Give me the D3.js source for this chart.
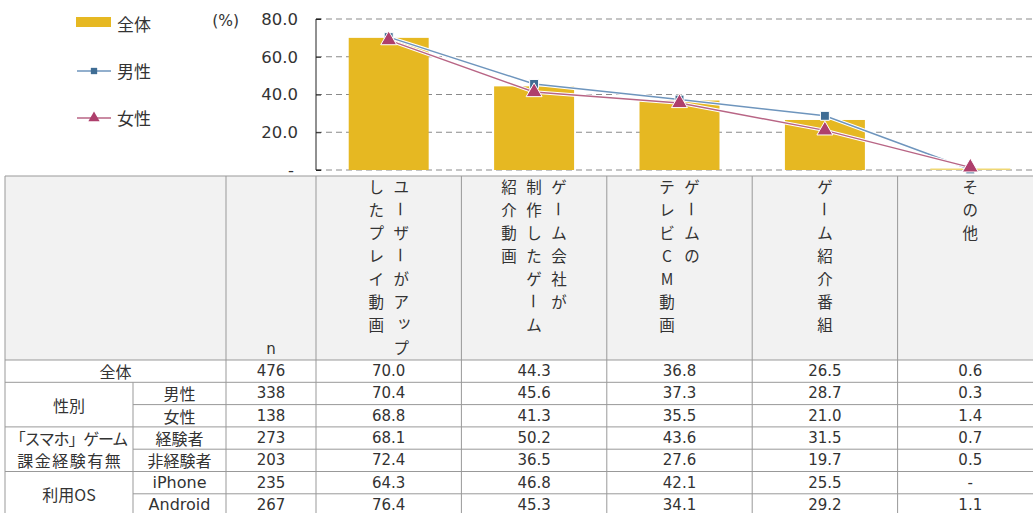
<!DOCTYPE html>
<html><head><meta charset="utf-8">
<script src="https://cdn.jsdelivr.net/npm/d3@7"></script>
<style>body{margin:0;background:#fff;} svg{display:block;}</style>
</head><body><svg id="c" width="1033" height="513"></svg>
<script>
// ---- data ----
const categories = ["ユーザーがアップしたプレイ動画","ゲーム会社が制作したゲーム紹介動画","ゲームのテレビCM動画","ゲーム紹介番組","その他"];
const headerColumns = [["ユーザーがアップ","したプレイ動画"],["ゲーム会社が","制作したゲーム","紹介動画"],["ゲームの","テレビCM動画"],["ゲーム紹介番組"],["その他"]];
const totalValues = [70.0,44.3,36.8,26.5,0.6];
const maleValues = [70.4,45.6,37.3,28.7,0.3];
const femaleValues = [68.8,41.3,35.5,21.0,1.4];
const yTicks = [0,20,40,60,80];
const yTickLabels = ["-","20.0","40.0","60.0","80.0"];
const seriesNames = ["全体","男性","女性"];
const groupLabels = [["全体"],["性別"],["「スマホ」ゲーム","課金経験有無"],["利用OS"]];
const groupSizes = [1,2,2,2];
const subLabels = ["","男性","女性","経験者","非経験者","iPhone","Android"];
const rowN = [476,338,138,273,203,235,267];
const tableValues = [
  [70.0,44.3,36.8,26.5,0.6],
  [70.4,45.6,37.3,28.7,0.3],
  [68.8,41.3,35.5,21.0,1.4],
  [68.1,50.2,43.6,31.5,0.7],
  [72.4,36.5,27.6,19.7,0.5],
  [64.3,46.8,42.1,25.5,null],
  [76.4,45.3,34.1,29.2,1.1]
];

// ---- layout ----
const svg = d3.select("#c");
const axisX = 316, colRight = 1043;
const numFont = "'DejaVu Sans', 'Noto Sans CJK JP', sans-serif";
const jpFont = "'Noto Sans CJK JP', 'DejaVu Sans', sans-serif";
const textColor = "#333";
const barColor = "#E6B822";
const maleColor = "#6E95BD", maleMarker = "#3F6D94";
const femaleColor = "#B86585", femaleMarker = "#AE3F6C";

const x = d3.scaleBand().domain(categories).range([axisX, colRight]).paddingInner(0.45).paddingOuter(0.225);
const y = d3.scaleLinear().domain([0,80]).range([170,19]);
const step = x.step();
const cx = c => x(c) + x.bandwidth()/2;

// gridlines
svg.append("g").selectAll("line").data(yTicks).join("line")
  .attr("x1", axisX).attr("x2", 1033).attr("y1", d=>y(d)).attr("y2", d=>y(d))
  .attr("stroke", "#8a8a8a").attr("stroke-width", 1).attr("stroke-dasharray", "6,4");

// bars
svg.append("g").selectAll("rect").data(totalValues).join("rect")
  .attr("x", (d,i)=>x(categories[i])).attr("width", x.bandwidth())
  .attr("y", d=>Math.min(y(d), y(0)-1.5)).attr("height", d=>Math.max(1.5, y(0)-y(d)))
  .attr("fill", (d,i)=> i===4 ? "#EFD774" : barColor);

// y axis
const yAxis = d3.axisRight(y).tickValues(yTicks).tickSize(5).tickFormat("");
const ga = svg.append("g").attr("transform", `translate(${axisX},0)`).call(yAxis);
ga.selectAll("path,line").attr("stroke","#222");
ga.select(".domain").attr("d", `M5,${y(80)}H0V${y(0)}H5`);

svg.append("g").selectAll("text").data(yTicks).join("text")
  .attr("x", (d,i)=> i===0 ? 294 : 298).attr("y", d=>y(d)).attr("dy","0.35em")
  .attr("text-anchor","end").attr("font-family", numFont).attr("font-size", 16.5).attr("fill", textColor)
  .text((d,i)=>yTickLabels[i]);
svg.append("text").attr("x",239).attr("y",y(80)+2).attr("dy","0.35em").attr("text-anchor","end")
  .attr("font-family", numFont).attr("font-size",15.5).attr("fill",textColor).text("(%)");

// lines
const line = d3.line().x((d,i)=>cx(categories[i])).y(d=>y(d));
function drawSeries(vals, color, marker, shape){
  const g = svg.append("g");
  g.append("path").attr("d", line(vals)).attr("fill","none").attr("stroke","#fff").attr("stroke-width",3.5);
  g.append("path").attr("d", line(vals)).attr("fill","none").attr("stroke",color).attr("stroke-width",1.5);
  const sym = d3.symbol().type(shape).size(shape===d3.symbolSquare ? 80 : 110);
  g.selectAll("path.m").data(vals).join("path").attr("class","m")
    .attr("transform",(d,i)=>`translate(${cx(categories[i])},${y(d)})`)
    .attr("d", sym()).attr("fill", marker).attr("stroke","#fff").attr("stroke-width",1);
}
drawSeries(maleValues, maleColor, maleMarker, d3.symbolSquare);
drawSeries(femaleValues, femaleColor, femaleMarker, d3.symbolTriangle);

// legend
const lg = svg.append("g");
lg.append("rect").attr("x",76).attr("y",17).attr("width",35).attr("height",10).attr("fill",barColor);
[[71, maleColor, maleMarker, d3.symbolSquare],[118, femaleColor, femaleMarker, d3.symbolTriangle]].forEach(([ly,c,m,s])=>{
  lg.append("line").attr("x1",77).attr("x2",111).attr("y1",ly).attr("y2",ly).attr("stroke",c).attr("stroke-width",1.5);
  lg.append("path").attr("transform",`translate(94,${ly})`).attr("d",d3.symbol().type(s).size(s===d3.symbolSquare?40:55)()).attr("fill",m);
});
lg.selectAll("text").data(seriesNames).join("text")
  .attr("x",117).attr("y",(d,i)=>[25,72,119][i]).attr("dy","0.35em")
  .attr("font-family", jpFont).attr("font-size",17).attr("fill",textColor).text(d=>d);

// ---- table ----
const tTop = 176, hBottom = 360, rowH = 22.3, tLeft = 5, groupSep = 133, nSep = 226;
const nRows = rowN.length;
const tg = svg.append("g");
tg.append("rect").attr("x",tLeft).attr("y",tTop).attr("width",1040-tLeft).attr("height",hBottom-tTop).attr("fill","#F2F2F2");
const border = "#999";
const rowY = i => hBottom + i*rowH;
const groupStarts = [0]; groupSizes.forEach((s,i)=>groupStarts.push(groupStarts[i]+s));
tg.append("line").attr("x1",tLeft).attr("x2",1040).attr("y1",tTop).attr("y2",tTop).attr("stroke",border);
for(let i=0;i<=nRows;i++){
  const full = groupStarts.includes(i);
  tg.append("line").attr("x1", full? tLeft : groupSep).attr("x2",1040).attr("y1",rowY(i)).attr("y2",rowY(i)).attr("stroke",border);
}
const colEdges = [tLeft, nSep].concat(categories.map(c=>cx(c)-step/2));
colEdges.forEach(ex=>{
  tg.append("line").attr("x1",ex).attr("x2",ex).attr("y1",tTop).attr("y2",rowY(nRows)).attr("stroke",border);
});
tg.append("line").attr("x1",groupSep).attr("x2",groupSep).attr("y1",rowY(1)).attr("y2",rowY(nRows)).attr("stroke",border);

// header vertical text
const vStep = 23, vTop = 186, vColGap = 25;
headerColumns.forEach((cols,ci)=>{
  const center = cx(categories[ci]);
  const k = cols.length;
  cols.forEach((str,j)=>{
    const xx = center + (k-1)/2*vColGap - j*vColGap;
    Array.from(str).forEach((ch,r)=>{
      const yy = vTop + r*vStep;
      const t = tg.append("text").attr("x",xx).attr("y",yy).attr("text-anchor","middle")
        .attr("dominant-baseline","central").attr("font-family",jpFont).attr("font-size",15.5).attr("fill",textColor);
      if(ch==="ー"){ t.attr("transform",`rotate(90,${xx},${yy})`); }
      if("ッャュョ".includes(ch)){ t.attr("x", xx+3).attr("y", yy-3); }
      t.text(ch);
    });
  });
});
tg.append("text").attr("x",(nSep+axisX)/2).attr("y",349).attr("dominant-baseline","central").attr("text-anchor","middle")
  .attr("font-family",numFont).attr("font-size",15).attr("fill",textColor).text("n");

// group labels
groupLabels.forEach((lines,gi)=>{
  const r0 = groupStarts[gi], sz = groupSizes[gi];
  const midY = rowY(r0) + sz*rowH/2;
  const midX = gi===0 ? (tLeft+nSep)/2 : (tLeft+groupSep)/2;
  lines.forEach((ln,li)=>{
    const ls = ln.length === 6 ? 1.5 : (ln.length > 6 ? -1.2 : 0);
    tg.append("text").attr("x",midX + ls/2).attr("y",midY + (li-(lines.length-1)/2)*rowH)
      .attr("dominant-baseline","central").attr("text-anchor","middle")
      .attr("font-family",jpFont).attr("font-size",16).attr("fill",textColor)
      .attr("letter-spacing", ls).text(ln);
  });
});
// sub labels, n, values
subLabels.forEach((s,i)=>{
  const my = rowY(i)+rowH/2;
  if(s) tg.append("text").attr("x",(groupSep+nSep)/2).attr("y",my).attr("dominant-baseline","central").attr("text-anchor","middle")
    .attr("font-family", /[A-Za-z]/.test(s)? numFont: jpFont).attr("font-size",16).attr("fill",textColor).text(s);
  tg.append("text").attr("x",(nSep+axisX)/2).attr("y",my).attr("dominant-baseline","central").attr("text-anchor","middle")
    .attr("font-family",numFont).attr("font-size",15).attr("fill",textColor).text(rowN[i]);
  tableValues[i].forEach((v,ci)=>{
    tg.append("text").attr("x",cx(categories[ci])).attr("y",my).attr("dominant-baseline","central").attr("text-anchor","middle")
      .attr("font-family",numFont).attr("font-size",15).attr("fill",textColor).text(v===null?"-":v.toFixed(1));
  });
});
</script></body></html>
